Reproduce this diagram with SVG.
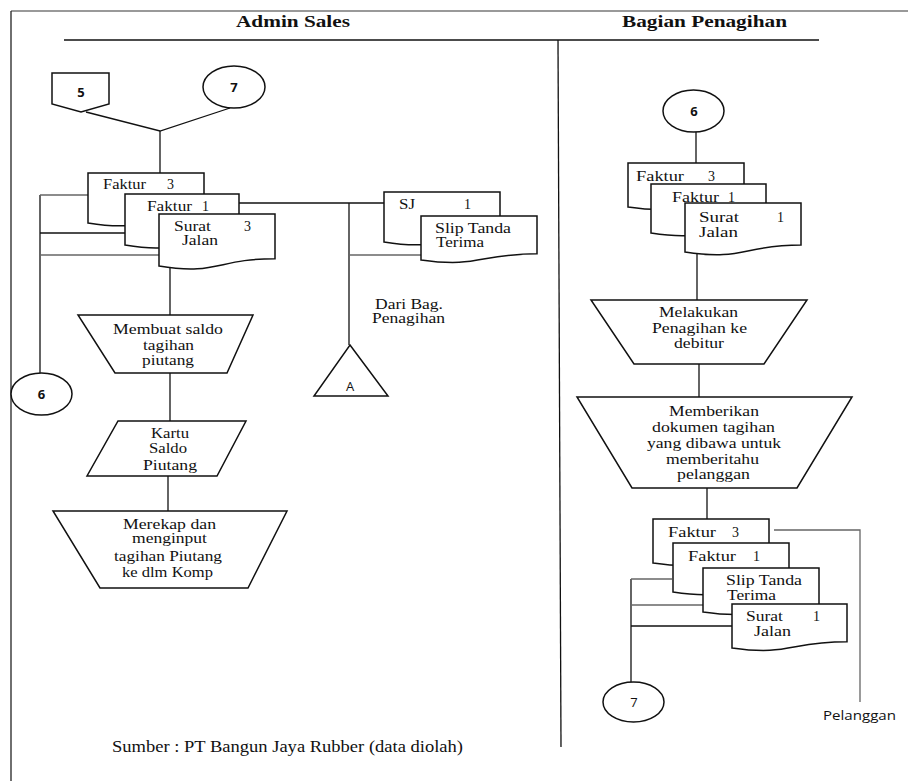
<svg xmlns="http://www.w3.org/2000/svg" width="908" height="781" viewBox="0 0 908 781">
<style>
.ln{stroke:#111;stroke-width:1.3;fill:none}
.gr{stroke:#666;stroke-width:1.3;fill:none}
.sh{stroke:#111;stroke-width:1.5;fill:#fff}
.t{font-family:"Liberation Serif","Times New Roman",serif;font-size:14px;fill:#111}
.h{font-family:"Liberation Serif","Times New Roman",serif;font-size:17px;font-weight:bold;fill:#111}
.n{font-family:"Open Sans","Liberation Sans",sans-serif;font-size:13px;font-weight:bold;fill:#111;text-anchor:middle}
.s{font-family:"Open Sans","Liberation Sans",sans-serif;font-size:13px;fill:#111}
</style>
<rect width="908" height="781" fill="#fff"/>
<g id="frame">
<line x1="11" y1="11" x2="908" y2="11" stroke="#777" stroke-width="1.5"/>
<line x1="11" y1="11" x2="11" y2="781" stroke="#222" stroke-width="1.3"/>
<line x1="64" y1="40" x2="819" y2="40" class="ln"/>
<line x1="558" y1="40" x2="561" y2="747" class="ln"/>
<text class="h" x="236" y="27" textLength="114" lengthAdjust="spacingAndGlyphs">Admin Sales</text>
<text class="h" x="622" y="27" textLength="165" lengthAdjust="spacingAndGlyphs">Bagian Penagihan</text>
</g>
<g id="connectors">
<polyline class="ln" points="86,112 160,131 230,108"/>
<line class="ln" x1="160" y1="131" x2="160" y2="173"/>
<line class="ln" x1="40" y1="195" x2="40" y2="373"/>
<line class="gr" x1="40" y1="195" x2="88" y2="195"/>
<line class="ln" x1="40" y1="233" x2="125" y2="233"/>
<line class="gr" x1="40" y1="255" x2="159" y2="255"/>
<line class="ln" x1="239" y1="203" x2="384" y2="203"/>
<line class="ln" x1="349" y1="203" x2="349" y2="345"/>
<line class="gr" x1="349" y1="255" x2="421" y2="255"/>
<line class="ln" x1="170" y1="262" x2="170" y2="315"/>
<line class="ln" x1="170" y1="373" x2="170" y2="421"/>
<line class="ln" x1="168" y1="476" x2="168" y2="511"/>
<line class="ln" x1="696" y1="132" x2="696" y2="163"/>
<line class="ln" x1="697" y1="250" x2="697" y2="300"/>
<line class="ln" x1="699" y1="364" x2="699" y2="397"/>
<line class="ln" x1="707" y1="488" x2="707" y2="519"/>
<polyline class="gr" points="774,530 860,530 860,702"/>
<line class="ln" x1="631" y1="579" x2="631" y2="682"/>
<line class="gr" x1="631" y1="579" x2="672" y2="579"/>
<line class="gr" x1="631" y1="605" x2="703" y2="605"/>
<line class="ln" x1="631" y1="626" x2="732" y2="626"/>
</g>
<g id="conn5">
<path class="sh" d="M52,73 H109 V104 L81,112 L52,104 Z"/>
<text class="n" x="81" y="97">5</text>
</g>
<g id="conn7top">
<ellipse class="sh" cx="234" cy="87" rx="31" ry="21"/>
<text class="n" x="234" y="92">7</text>
</g>
<g id="docFaktur3L">
<path class="sh" d="M88,173 H204 V216 C146,216 146,232.3 88,223 Z"/>
<text class="t" y="189"><tspan x="103" textLength="43" lengthAdjust="spacingAndGlyphs">Faktur</tspan><tspan x="167">3</tspan></text>
</g>
<g id="docFaktur1L">
<path class="sh" d="M125,194 H239 V237.8 C182,237.8 182,254.5 125,245 Z"/>
<text class="t" y="211"><tspan x="147" textLength="45" lengthAdjust="spacingAndGlyphs">Faktur</tspan><tspan x="202">1</tspan></text>
</g>
<g id="docSuratL">
<path class="sh" d="M159,214 H275 V258.7 C217,258.7 217,275.7 159,266 Z"/>
<text class="t" y="231"><tspan x="174" textLength="37" lengthAdjust="spacingAndGlyphs">Surat</tspan><tspan x="244">3</tspan></text>
<text class="t" x="182" y="245" textLength="36" lengthAdjust="spacingAndGlyphs">Jalan</text>
</g>
<g id="docSJ">
<path class="sh" d="M384,192 H500 V235 C442,235 442,251.3 384,242 Z"/>
<text class="t" y="209"><tspan x="399" textLength="16" lengthAdjust="spacingAndGlyphs">SJ</tspan><tspan x="464">1</tspan></text>
</g>
<g id="docSlip">
<path class="sh" d="M421,216 H537 V253.8 C479,253.8 479,268.2 421,260 Z"/>
<text class="t" x="435" y="233" textLength="76" lengthAdjust="spacingAndGlyphs">Slip Tanda</text>
<text class="t" x="436" y="247" textLength="48" lengthAdjust="spacingAndGlyphs">Terima</text>
</g>
<g id="labelDari">
<text class="t" x="375" y="309" textLength="68" lengthAdjust="spacingAndGlyphs">Dari Bag.</text>
<text class="t" x="372" y="323" textLength="73" lengthAdjust="spacingAndGlyphs">Penagihan</text>
</g>
<g id="connA">
<path class="sh" d="M350,345 L388,396 L314,396 Z"/>
<text class="s" x="350" y="391" text-anchor="middle">A</text>
</g>
<g id="conn6left">
<ellipse class="sh" cx="41.5" cy="394" rx="30.5" ry="21"/>
<text class="n" x="41.5" y="399">6</text>
</g>
<g id="procMembuat">
<path class="sh" d="M78,315 H253 L227,373 H115 Z"/>
<text class="t" x="113" y="334" textLength="110" lengthAdjust="spacingAndGlyphs">Membuat saldo</text>
<text class="t" x="143" y="350" textLength="51" lengthAdjust="spacingAndGlyphs">tagihan</text>
<text class="t" x="142" y="365" textLength="52" lengthAdjust="spacingAndGlyphs">piutang</text>
</g>
<g id="dataKartu">
<path class="sh" d="M118,421 H246 L217,476 H87 Z"/>
<text class="t" x="151" y="438" textLength="38" lengthAdjust="spacingAndGlyphs">Kartu</text>
<text class="t" x="149" y="453" textLength="38" lengthAdjust="spacingAndGlyphs">Saldo</text>
<text class="t" x="143" y="470" textLength="54" lengthAdjust="spacingAndGlyphs">Piutang</text>
</g>
<g id="procMerekap">
<path class="sh" d="M53,511 H287 L248,588 H100 Z"/>
<text class="t" x="123" y="529" textLength="93" lengthAdjust="spacingAndGlyphs">Merekap dan</text>
<text class="t" x="132" y="543" textLength="75" lengthAdjust="spacingAndGlyphs">menginput</text>
<text class="t" x="114" y="561" textLength="108" lengthAdjust="spacingAndGlyphs">tagihan Piutang</text>
<text class="t" x="122" y="577" textLength="91" lengthAdjust="spacingAndGlyphs">ke dlm Komp</text>
</g>
<g id="source">
<text class="t" x="112" y="752" style="font-size:16px" textLength="351" lengthAdjust="spacingAndGlyphs">Sumber : PT Bangun Jaya Rubber (data diolah)</text>
</g>
<g id="conn6right">
<ellipse class="sh" cx="693.5" cy="111" rx="30.5" ry="21"/>
<text class="n" x="694" y="116">6</text>
</g>
<g id="docFaktur3R">
<path class="sh" d="M628,163 H744 V200.8 C686,200.8 686,215.2 628,207 Z"/>
<text class="t" y="181"><tspan x="636" textLength="48" lengthAdjust="spacingAndGlyphs">Faktur</tspan><tspan x="708">3</tspan></text>
</g>
<g id="docFaktur1R">
<path class="sh" d="M651,184 H766 V226.1 C708.5,226.1 708.5,242.1 651,233 Z"/>
<text class="t" y="202"><tspan x="672" textLength="47" lengthAdjust="spacingAndGlyphs">Faktur</tspan><tspan x="728">1</tspan></text>
</g>
<g id="docSuratR">
<path class="sh" d="M685,203 H801 V245.1 C743,245.1 743,261.1 685,252 Z"/>
<text class="t" y="222"><tspan x="699" textLength="40" lengthAdjust="spacingAndGlyphs">Surat</tspan><tspan x="777">1</tspan></text>
<text class="t" x="699" y="237" textLength="39" lengthAdjust="spacingAndGlyphs">Jalan</text>
</g>
<g id="procMelakukan">
<path class="sh" d="M591,300 H807 L764,364 H634 Z"/>
<text class="t" x="659" y="317" textLength="79" lengthAdjust="spacingAndGlyphs">Melakukan</text>
<text class="t" x="652" y="333" textLength="95" lengthAdjust="spacingAndGlyphs">Penagihan ke</text>
<text class="t" x="674" y="348" textLength="50" lengthAdjust="spacingAndGlyphs">debitur</text>
</g>
<g id="procMemberikan">
<path class="sh" d="M577,397 H852 L797,488 H632 Z"/>
<text class="t" x="669" y="416" textLength="90" lengthAdjust="spacingAndGlyphs">Memberikan</text>
<text class="t" x="652" y="432" textLength="123" lengthAdjust="spacingAndGlyphs">dokumen tagihan</text>
<text class="t" x="647" y="448" textLength="134" lengthAdjust="spacingAndGlyphs">yang dibawa untuk</text>
<text class="t" x="666" y="464" textLength="93" lengthAdjust="spacingAndGlyphs">memberitahu</text>
<text class="t" x="677" y="479" textLength="73" lengthAdjust="spacingAndGlyphs">pelanggan</text>
</g>
<g id="docFaktur3B">
<path class="sh" d="M653,519 H769 V556.8 C711,556.8 711,571.2 653,563 Z"/>
<text class="t" y="537"><tspan x="668" textLength="48" lengthAdjust="spacingAndGlyphs">Faktur</tspan><tspan x="732">3</tspan></text>
</g>
<g id="docFaktur1B">
<path class="sh" d="M673,543 H789 V585.1 C731,585.1 731,601.1 673,592 Z"/>
<text class="t" y="561"><tspan x="688" textLength="48" lengthAdjust="spacingAndGlyphs">Faktur</tspan><tspan x="753">1</tspan></text>
</g>
<g id="docSlipB">
<path class="sh" d="M703,568 H819 V605.8 C761,605.8 761,620.2 703,612 Z"/>
<text class="t" x="726" y="585" textLength="76" lengthAdjust="spacingAndGlyphs">Slip Tanda</text>
<text class="t" x="727" y="600" textLength="49" lengthAdjust="spacingAndGlyphs">Terima</text>
</g>
<g id="docSuratB">
<path class="sh" d="M732,604 H847 V641.8 C789.5,641.8 789.5,656.2 732,648 Z"/>
<text class="t" y="621"><tspan x="746" textLength="37" lengthAdjust="spacingAndGlyphs">Surat</tspan><tspan x="813">1</tspan></text>
<text class="t" x="754" y="636" textLength="37" lengthAdjust="spacingAndGlyphs">Jalan</text>
</g>
<g id="conn7bottom">
<ellipse class="sh" cx="633.5" cy="702" rx="30.5" ry="20"/>
<text class="s" x="634" y="707" text-anchor="middle">7</text>
</g>
<g id="labelPelanggan">
<text class="s" x="823" y="720" style="font-size:12px" textLength="73" lengthAdjust="spacingAndGlyphs">Pelanggan</text>
</g>
</svg>
